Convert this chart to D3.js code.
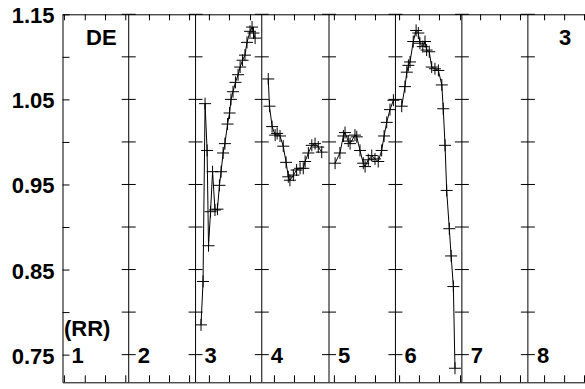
<!DOCTYPE html>
<html>
<head>
<meta charset="utf-8">
<script src="https://cdn.jsdelivr.net/npm/d3@7"></script>
<style>
  body { margin: 0; background: #fff; }
  svg text { font-family: "Liberation Sans", Arial, sans-serif; font-weight: bold; fill: #000; }
</style>
</head>
<body>
<div id="chart"></div>
<script>
// 1. data (x in days from the left axis, y = RR value)
const panelStarts = [0, 32.7, 65.7, 98.4, 131.6, 164.4, 197.2, 229.8];
const panelLabels = ["1", "2", "3", "4", "5", "6", "7", "8"];
const xTickDays = [0.7, 11, 21, 31, 42.7, 52.6, 62.5, 72.3, 82.2, 92.6, 104.4, 114.3, 124.2,
  134, 144.4, 154.3, 166.2, 176, 185.9, 196.3, 206.2, 216, 225.9, 237.8, 247.7, 257.5];
const yTicks = [0.75, 0.80, 0.85, 0.90, 0.95, 1.00, 1.05, 1.10, 1.15];
const yLabels = [0.75, 0.85, 0.95, 1.05, 1.15];

const p3Day = [68.4, 69.4, 70.4, 71.4, 72.1, 73.1, 74.1, 75.3, 76.5, 77.5, 78.3, 79.3, 80.2,
  81.5, 82.5, 83.2, 84.2, 85.4, 86.7, 87.7, 88.9, 90.1, 91.1, 92.6, 93.6, 94.3, 95.1];
const p3RR = [0.785, 0.836, 1.045, 0.990, 0.878, 0.918, 0.965, 0.920, 0.921, 0.949, 0.965, 0.987, 0.998,
  1.021, 1.034, 1.050, 1.059, 1.070, 1.079, 1.088, 1.096, 1.102, 1.117, 1.130, 1.135, 1.128, 1.122];

const p4Day = [101.6, 102.2, 103.5, 105.0, 106.0, 107.4, 109.0, 110.4, 111.5, 112.3, 114.0,
  115.6, 117.3, 118.9, 119.8, 121.4, 123.1, 124.7, 126.3, 128.0];
const p4RR = [1.074, 1.042, 1.018, 1.008, 1.010, 1.007, 0.995, 0.976, 0.959, 0.955, 0.961,
  0.967, 0.969, 0.969, 0.977, 0.987, 0.996, 0.998, 0.994, 0.988];

const p5Day = [134.6, 137.0, 138.7, 139.5, 141.1, 142.0, 144.4, 145.3, 146.9, 148.5, 149.4,
  151.0, 152.7, 154.3, 155.9, 157.6, 158.8, 160.1, 161.7, 163.4];
const p5RR = [0.975, 0.987, 1.007, 1.011, 1.001, 0.998, 1.008, 1.006, 0.990, 0.975, 0.971,
  0.979, 0.984, 0.980, 0.977, 0.990, 1.007, 1.023, 1.038, 1.049];

const p6Day = [167.5, 169.1, 170.0, 170.8, 171.6, 173.2, 174.6, 175.7, 176.5, 177.9, 179.0,
  179.8, 181.1, 182.3, 183.9, 185.6, 187.3, 188.0, 188.9, 189.7, 191.0, 191.9, 193.0, 193.8];
const p6RR = [1.042, 1.065, 1.082, 1.090, 1.094, 1.118, 1.131, 1.128, 1.116, 1.112, 1.118,
  1.108, 1.106, 1.088, 1.086, 1.084, 1.067, 1.039, 0.996, 0.943, 0.898, 0.866, 0.830, 0.734];

const segments = [[p3Day, p3RR], [p4Day, p4RR], [p5Day, p5RR], [p6Day, p6RR]]
  .map(([ds, rs]) => ds.map((d, i) => ({ day: d, rr: rs[i] })));

// 2. svg and scales
const width = 585, height = 389;
const svg = d3.select("#chart").append("svg")
  .attr("width", width).attr("height", height);
svg.append("rect").attr("width", width).attr("height", height).attr("fill", "#fff");

const x = d3.scaleLinear().domain([0, 258]).range([62.5, 585]);
const y = d3.scaleLinear().domain([0.7175, 1.15]).range([382.3, 14.3]);

// 3. frame axes
svg.append("g")
  .attr("transform", `translate(0,${y(0.7175)})`)
  .call(d3.axisBottom(x).tickValues(xTickDays).tickSize(-7).tickSizeOuter(0).tickFormat(""))
  .call(g => g.selectAll("line,path").attr("stroke", "#000"));

svg.append("g")
  .attr("transform", `translate(0,${y(1.15)})`)
  .call(d3.axisTop(x).tickValues(xTickDays).tickSize(-6).tickSizeOuter(0).tickFormat(""))
  .call(g => g.selectAll("line,path").attr("stroke", "#000"));

const yAxis = svg.append("g")
  .attr("transform", `translate(${x(0)},0)`)
  .call(d3.axisLeft(y).tickValues(yTicks).tickSize(-7).tickSizeOuter(0).tickPadding(8)
    .tickFormat(d => yLabels.some(v => Math.abs(v - d) < 1e-6) ? d3.format(".2f")(d) : ""));
yAxis.selectAll("line,path").attr("stroke", "#000");
yAxis.selectAll("text")
  .attr("font-size", 22)
  .attr("dy", null)
  .attr("y", 8.5);

// 4. panel separators with crossing ticks and numbers
const seps = panelStarts.slice(1);
svg.selectAll(".sep")
  .data(seps)
  .enter().append("line")
    .attr("class", "sep")
    .attr("x1", d => x(d)).attr("x2", d => x(d))
    .attr("y1", y(1.15)).attr("y2", y(0.7175))
    .attr("stroke", "#000").attr("stroke-width", 1);

seps.forEach(s => {
  svg.selectAll(null)
    .data(yTicks)
    .enter().append("line")
      .attr("x1", x(s) - 7).attr("x2", x(s) + 7)
      .attr("y1", d => y(d)).attr("y2", d => y(d))
      .attr("stroke", "#000");
});

svg.selectAll(".panel-label")
  .data(panelStarts)
  .enter().append("text")
    .attr("class", "panel-label")
    .attr("x", d => x(d) + 9)
    .attr("y", y(0.75) + 8)
    .attr("font-size", 22)
    .text((d, i) => panelLabels[i]);

// 5. line and cross markers
const line = d3.line().x(d => x(d.day)).y(d => y(d.rr));
segments.forEach(seg => {
  svg.append("path")
    .datum(seg)
    .attr("d", line)
    .attr("fill", "none")
    .attr("stroke", "#000")
    .attr("stroke-width", 1);

  const marks = svg.append("g").selectAll("g")
    .data(seg)
    .enter().append("g")
      .attr("transform", d => `translate(${x(d.day)},${y(d.rr)})`);
  marks.append("line").attr("x1", -6).attr("x2", 6).attr("stroke", "#000");
  marks.append("line").attr("y1", -6).attr("y2", 6).attr("stroke", "#000");
});

// 6. annotations
svg.append("text").attr("x", 64).attr("y", 336).attr("font-size", 22).text("(RR)");
svg.append("text").attr("x", 86).attr("y", 45).attr("font-size", 22).text("DE");
svg.append("text").attr("x", 559).attr("y", 45).attr("font-size", 22).text("3");
</script>
</body>
</html>
